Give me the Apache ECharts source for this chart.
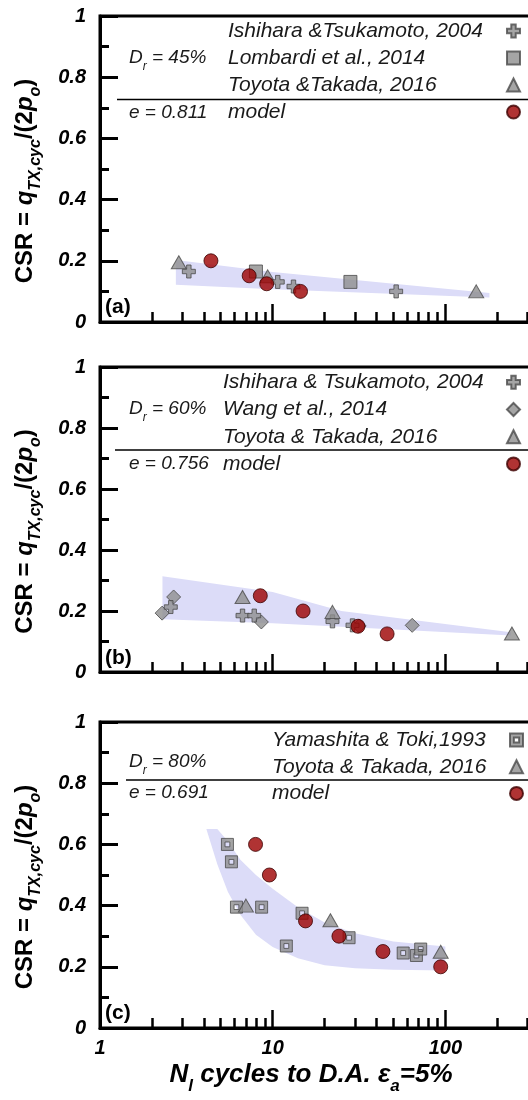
<!DOCTYPE html>
<html><head><meta charset="utf-8">
<script src="https://cdn.jsdelivr.net/npm/echarts@6/dist/echarts.min.js"></script>
<style>html,body{margin:0;padding:0;background:#fff}#c{width:528px;height:1100px}</style>
</head><body><div id="c"></div>
<script>
const FONT = '"Liberation Sans", Arial, sans-serif';

// ---------- Panel (a) Dr = 45% ----------
const aIshihara = [[3.27, 0.165], [10.7, 0.131], [13.2, 0.116], [51.9, 0.1]];
const aLombardi = [[8.0, 0.165], [28.2, 0.131]];
const aToyota = [[2.86, 0.195], [9.36, 0.149], [151, 0.1]];
const aModel = [[4.39, 0.2], [7.31, 0.151], [9.23, 0.125], [14.5, 0.1]];
const aBandX = [2.75, 10, 180];
const aBandLow = [0.122, 0.107, 0.08];
const aBandHigh = [0.203, 0.163, 0.095];

// ---------- Panel (b) Dr = 60% ----------
const bIshihara = [[2.57, 0.213], [6.69, 0.185], [7.82, 0.185], [22.2, 0.166], [29.0, 0.153]];
const bWang = [[2.29, 0.193], [2.67, 0.246], [8.6, 0.164], [31.7, 0.151], [64.3, 0.153]];
const bToyota = [[6.69, 0.246], [22.2, 0.197], [243, 0.126]];
const bModel = [[8.48, 0.25], [15.0, 0.2], [31.2, 0.15], [46.0, 0.125]];
const bBandX = [2.3, 10, 25, 240];
const bBandLow = [0.173, 0.16, 0.148, 0.12];
const bBandHigh = [0.314, 0.262, 0.2, 0.13];

// ---------- Panel (c) Dr = 80% ----------
const cYamashita = [[5.47, 0.6], [5.77, 0.543], [6.17, 0.395], [8.63, 0.395], [12.0, 0.268], [14.8, 0.375], [27.7, 0.295], [57, 0.245], [68, 0.237], [72, 0.258]];
const cToyota = [[7.0, 0.4], [21.6, 0.352], [94, 0.249]];
const cModel = [[7.96, 0.6], [9.57, 0.5], [15.5, 0.35], [24.2, 0.3], [43.5, 0.25], [94, 0.2]];
const cBandX = [4.13, 4.78, 5.5, 6.5, 8, 10, 14, 20, 30, 50, 100];
const cBandLow = [0.65, 0.535, 0.445, 0.37, 0.305, 0.265, 0.228, 0.205, 0.195, 0.19, 0.188];
const cBandHigh = [0.65, 0.65, 0.61, 0.55, 0.5, 0.455, 0.395, 0.345, 0.31, 0.283, 0.266];

// ---------- axis ticks / labels ----------
const xMinorTicks = [2, 3, 4, 5, 6, 7, 8, 9, 20, 30, 40, 50, 60, 70, 80, 90, 200, 300, 400, 500, 600, 700, 800, 900];
const panelLabels = ['(a)', '(b)', '(c)'];
const drLabels = ['45%', '60%', '80%'];
const eLabels = ['0.811', '0.756', '0.691'];
const legendNames = [
  ['Ishihara &Tsukamoto, 2004', 'Lombardi et al., 2014', 'Toyota &Takada, 2016', 'model'],
  ['Ishihara & Tsukamoto, 2004', 'Wang et al., 2014', 'Toyota & Takada, 2016', 'model'],
  ['Yamashita & Toki,1993', 'Toyota & Takada, 2016', 'model']
];

// ---------- styles ----------
const SYM = {
  cross: 'path://M3.3,0H6.7V3.3H10V6.7H6.7V10H3.3V6.7H0V3.3H3.3Z',
  square: 'rect',
  tri: 'triangle',
  diamond: 'diamond',
  boxsq: 'path://M0,0H10V10H0Z M3,3V7H7V3Z',
  circle: 'circle'
};
const GRAY = {color: '#8e8e8e', borderColor: '#4a4a4a', borderWidth: 1};
const RED = {color: '#9c0000', borderColor: '#3c0000', borderWidth: 1};
const BAND = '#dcdcf8';

const grids = [
  {left: 100, top: 16, width: 518, height: 306},
  {left: 100, top: 367, width: 518, height: 305},
  {left: 100, top: 722, width: 518, height: 306}
].map(g => Object.assign(g, {show: true, borderColor: '#000', borderWidth: 3, backgroundColor: 'transparent', outerBoundsMode: 'none', containLabel: false}));

const yName = '{a|CSR = }{q|q}{s|TX,cyc}{a|/(2}{q|p}{s|o}{a|)}';
const yAxes = [0, 1, 2].map(i => ({
  type: 'value', gridIndex: i, min: 0, max: 1, interval: 0.2,
  axisLine: {show: true, lineStyle: {color: '#000', width: 3}},
  axisTick: {show: true, inside: true, length: 18, lineStyle: {color: '#000', width: 3}},
  minorTick: {show: true, splitNumber: 2, length: 9, lineStyle: {color: '#000', width: 3}},
  splitLine: {show: false},
  axisLabel: {fontSize: 20, fontWeight: 'bold', fontStyle: 'italic', color: '#000', fontFamily: FONT, margin: 14},
  name: yName, nameLocation: 'middle', nameRotate: 90, nameGap: 56,
  nameTextStyle: {
    color: '#000', fontFamily: FONT, padding: [0, 24, 0, 0],
    rich: {
      a: {fontSize: 24, fontWeight: 'bold', lineHeight: 38, fontFamily: FONT, color: '#000'},
      q: {fontSize: 24, fontWeight: 'bold', fontStyle: 'italic', lineHeight: 38, fontFamily: FONT, color: '#000'},
      s: {fontSize: 16, fontWeight: 'bold', fontStyle: 'italic', lineHeight: 16, verticalAlign: 'bottom', fontFamily: FONT, color: '#000'}
    }
  }
}));

const xAxes = [];
[0, 1, 2].forEach(i => {
  xAxes.push({
    type: 'log', logBase: 10, gridIndex: i, min: 1, max: 1000, position: 'bottom',
    axisLine: {show: true, lineStyle: {color: '#000', width: 3}},
    axisTick: {show: true, inside: true, length: 18, lineStyle: {color: '#000', width: 2.5}},
    splitLine: {show: false},
    axisLabel: {show: i === 2, fontSize: 20, fontWeight: 'bold', fontStyle: 'italic', color: '#000', fontFamily: FONT, margin: 10,
      formatter: v => String(v)}
  });
  xAxes.push({
    type: 'log', logBase: 10, gridIndex: i, min: 1, max: 1000, position: 'bottom', offset: 0,
    axisLine: {show: false},
    axisTick: {show: true, inside: true, length: 10, customValues: xMinorTicks, lineStyle: {color: '#000', width: 2.5}},
    splitLine: {show: false},
    axisLabel: {show: false}
  });
});

const series = [];
function band(id, xs, low, high, gi) {
  series.push({
    type: 'custom', name: 'band-' + id, xAxisIndex: gi * 2, yAxisIndex: gi, silent: true, z: 1,
    data: xs.map((x, k) => [x, low[k], high[k]]),
    encode: {x: 0, y: [1, 2]},
    renderItem: function (params, api) {
      if (params.dataIndex !== 0) return null;
      const top = xs.map((x, k) => api.coord([x, high[k]]));
      const bot = xs.map((x, k) => api.coord([x, low[k]])).reverse();
      return {type: 'polygon', shape: {points: top.concat(bot)}, style: {fill: BAND}};
    }
  });
}
function pts(name, data, gi, sym, size, style, z) {
  series.push({
    type: 'scatter', name: name, xAxisIndex: gi * 2, yAxisIndex: gi, data: data,
    symbol: SYM[sym], symbolSize: size, itemStyle: style, z: z || 3,
    emphasis: {disabled: true}
  });
}
band('a', aBandX, aBandLow, aBandHigh, 0);
band('b', bBandX, bBandLow, bBandHigh, 1);
band('c', cBandX, cBandLow, cBandHigh, 2);

pts(legendNames[0][1], aLombardi, 0, 'square', 13, GRAY);
pts(legendNames[0][2], aToyota, 0, 'tri', [15, 13], GRAY);
pts(legendNames[0][0], aIshihara, 0, 'cross', 13, GRAY);
pts(legendNames[0][3], aModel, 0, 'circle', 14, RED, 4);

pts(legendNames[1][1], bWang, 1, 'diamond', 14, GRAY);
pts(legendNames[1][0], bIshihara, 1, 'cross', 13, GRAY);
pts(legendNames[1][2], bToyota, 1, 'tri', [15, 13], GRAY);
pts(legendNames[1][3], bModel, 1, 'circle', 14, RED, 4);

pts(legendNames[2][0], cYamashita, 2, 'boxsq', 12, GRAY);
pts(legendNames[2][1], cToyota, 2, 'tri', [15, 13], GRAY);
pts(legendNames[2][2], cModel, 2, 'circle', 14, RED, 4);

const legendPos = [
  {left: 228, top: 20.5, w: 274, gap: 6},
  {left: 223, top: 371.8, w: 279, gap: 6.2},
  {left: 272, top: 729.5, w: 233, gap: 5.7}
];
const legends = legendPos.map((p, i) => ({
  data: legendNames[i], left: p.left, top: p.top, orient: 'vertical', align: 'right',
  itemGap: p.gap, itemWidth: 13, itemHeight: 13, padding: 0, selectedMode: false,
  formatter: n => '{t|' + n + '}',
  textStyle: {rich: {t: {width: p.w, align: 'left', fontSize: 21, lineHeight: 21, fontStyle: 'italic', fontFamily: FONT, color: '#1a1a1a'}}}
}));

const graphic = [];
const lineY = [99.5, 450, 780];
const lineX = [117, 115, 126];
const drY = [58, 409, 762];
const eY = [113, 464, 793];
const panY = [307, 658, 1013];
[0, 1, 2].forEach(i => {
  graphic.push({type: 'line', shape: {x1: lineX[i], y1: lineY[i], x2: 540, y2: lineY[i]}, style: {stroke: '#000', lineWidth: 1.5}, silent: true});
  graphic.push({type: 'text', x: 129, y: drY[i], silent: true, style: {
    text: '{m|D}{s|r}{m| = ' + drLabels[i] + '}', align: 'left', verticalAlign: 'middle',
    rich: {
      m: {fontSize: 19, fontStyle: 'italic', fontFamily: FONT, lineHeight: 30, fill: '#1a1a1a'},
      s: {fontSize: 12, fontStyle: 'italic', fontFamily: FONT, lineHeight: 12, verticalAlign: 'bottom', fill: '#1a1a1a'}
    }
  }});
  graphic.push({type: 'text', x: 129, y: eY[i], silent: true, style: {
    text: 'e = ' + eLabels[i], align: 'left', verticalAlign: 'middle',
    fontSize: 19, fontStyle: 'italic', fontFamily: FONT, fill: '#1a1a1a'
  }});
  graphic.push({type: 'text', x: 105, y: panY[i], silent: true, style: {
    text: panelLabels[i], align: 'left', verticalAlign: 'middle',
    fontSize: 21, fontWeight: 'bold', fontFamily: FONT, fill: '#000'
  }});
});
graphic.push({type: 'text', x: 311, y: 1075, silent: true, style: {
  text: '{m|N}{s|l}{m| cycles to D.A. ε}{s|a}{m|=5%}', align: 'center', verticalAlign: 'middle',
  rich: {
    m: {fontSize: 26, fontWeight: 'bold', fontStyle: 'italic', fontFamily: FONT, lineHeight: 40, fill: '#000'},
    s: {fontSize: 17, fontWeight: 'bold', fontStyle: 'italic', fontFamily: FONT, lineHeight: 17, verticalAlign: 'bottom', fill: '#000'}
  }
}});

const chart = echarts.init(document.getElementById('c'), null, {renderer: 'canvas'});
chart.setOption({
  animation: false,
  backgroundColor: '#fff',
  textStyle: {fontFamily: FONT},
  grid: grids,
  xAxis: xAxes,
  yAxis: yAxes,
  legend: legends,
  series: series,
  graphic: graphic
});
</script>
</body></html>
